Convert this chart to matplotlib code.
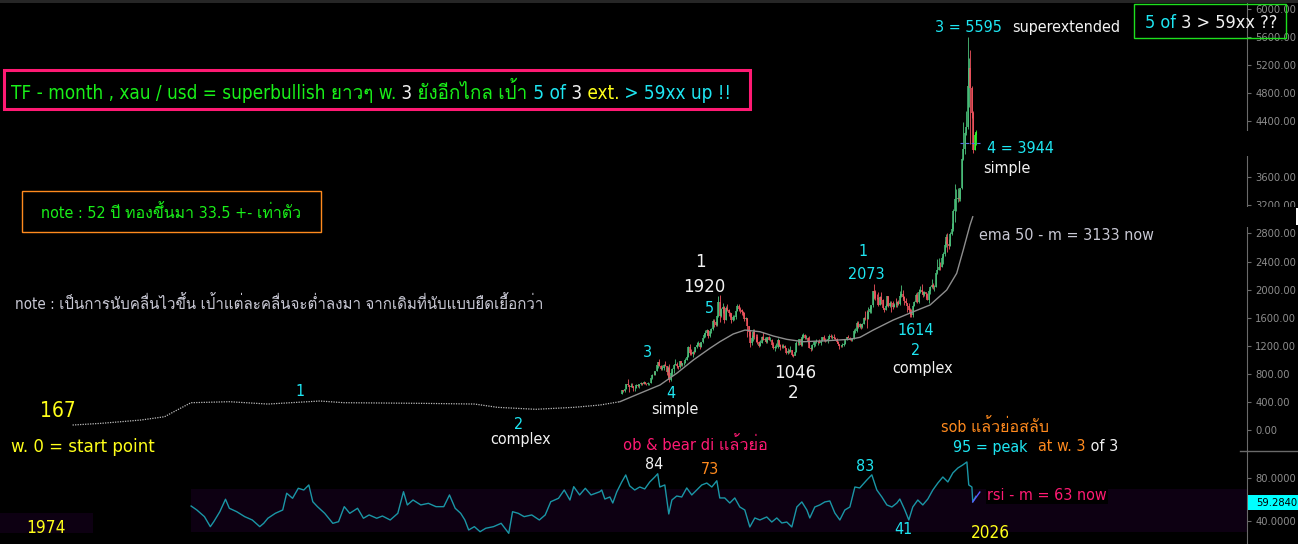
import matplotlib
matplotlib.use("Agg")
import matplotlib.pyplot as plt
import numpy as np
from matplotlib import font_manager
from matplotlib.ft2font import FT2Font
from matplotlib.patches import Rectangle
from matplotlib.lines import Line2D

# monthly xau/usd candles, Jan 2006 .. Jul 2026 (open = previous close)
first_open = 513
closes = [
    568, 556, 582, 654, 643, 613, 633, 623, 599, 604, 646, 632,
    650, 669, 662, 681, 659, 650, 665, 673, 743, 789, 783, 834,
    923, 972, 916, 864, 885, 928, 912, 833, 884, 718, 815, 869,
    927, 942, 916, 891, 979, 926, 955, 955, 1001, 1040, 1181, 1096,
    1081, 1118, 1113, 1180, 1212, 1244, 1181, 1247, 1307, 1357, 1386, 1421,
    1333, 1410, 1439, 1556, 1536, 1500, 1628, 1826, 1620, 1722, 1746, 1566,
    1737, 1711, 1669, 1664, 1562, 1604, 1614, 1692, 1773, 1719, 1713, 1675,
    1663, 1578, 1596, 1476, 1393, 1234, 1314, 1396, 1327, 1323, 1253, 1202,
    1244, 1326, 1284, 1291, 1250, 1327, 1282, 1287, 1210, 1171, 1182, 1184,
    1279, 1212, 1183, 1182, 1190, 1172, 1095, 1132, 1115, 1142, 1065, 1061,
    1117, 1238, 1234, 1293, 1215, 1322, 1350, 1309, 1316, 1273, 1173, 1152,
    1211, 1249, 1249, 1268, 1268, 1242, 1269, 1322, 1280, 1271, 1275, 1303,
    1345, 1318, 1325, 1316, 1298, 1253, 1224, 1201, 1192, 1215, 1222, 1282,
    1321, 1313, 1292, 1284, 1305, 1409, 1413, 1520, 1472, 1513, 1464, 1517,
    1589, 1585, 1577, 1686, 1730, 1781, 1975, 1967, 1886, 1879, 1776, 1898,
    1847, 1734, 1707, 1769, 1906, 1770, 1814, 1813, 1757, 1783, 1774, 1829,
    1796, 1909, 1937, 1896, 1837, 1807, 1766, 1711, 1660, 1633, 1768, 1824,
    1928, 1827, 1969, 1990, 1963, 1919, 1965, 1940, 1849, 1983, 2036, 2063,
    2040, 2044, 2230, 2286, 2327, 2326, 2448, 2503, 2635, 2744, 2643, 2625,
    2798, 2858, 3124, 3289, 3289, 3303, 3290, 3448, 3858, 4000, 4230, 4320,
    4900, 5150, 4870, 4516, 3990, 4200, 4250,
]
highs = [
    570, 575, 586, 654, 730, 638, 669, 665, 633, 612, 650, 650,
    652, 690, 671, 693, 691, 671, 682, 676, 745, 796, 846, 841,
    926, 975, 1014, 929, 930, 945, 988, 915, 905, 934, 825, 881,
    928, 1006, 963, 917, 982, 989, 960, 966, 1024, 1071, 1195, 1227,
    1161, 1128, 1134, 1180, 1249, 1266, 1244, 1248, 1310, 1388, 1424, 1432,
    1424, 1412, 1447, 1575, 1577, 1553, 1632, 1913, 1921, 1734, 1804, 1764,
    1764, 1791, 1720, 1677, 1668, 1641, 1632, 1693, 1790, 1798, 1755, 1723,
    1694, 1684, 1617, 1598, 1488, 1424, 1348, 1434, 1434, 1361, 1362, 1267,
    1280, 1345, 1392, 1331, 1315, 1332, 1345, 1323, 1294, 1255, 1210, 1238,
    1307, 1287, 1224, 1224, 1232, 1205, 1175, 1170, 1157, 1191, 1144, 1088,
    1124, 1263, 1282, 1303, 1304, 1362, 1375, 1367, 1352, 1325, 1337, 1180,
    1220, 1264, 1262, 1296, 1270, 1296, 1270, 1331, 1358, 1306, 1299, 1307,
    1366, 1362, 1356, 1365, 1326, 1310, 1266, 1226, 1214, 1243, 1237, 1284,
    1326, 1347, 1324, 1300, 1306, 1439, 1453, 1555, 1557, 1518, 1516, 1525,
    1611, 1689, 1704, 1747, 1765, 1786, 1984, 2075, 1992, 1933, 1965, 1906,
    1959, 1871, 1740, 1798, 1912, 1916, 1832, 1834, 1834, 1813, 1877, 1831,
    1853, 1974, 2070, 1998, 1910, 1879, 1814, 1808, 1735, 1730, 1786, 1833,
    1949, 1959, 2009, 2049, 2079, 1983, 1987, 1949, 1953, 2009, 2052, 2146,
    2088, 2066, 2236, 2431, 2450, 2387, 2484, 2531, 2686, 2790, 2801, 2726,
    2817, 2956, 3149, 3500, 3435, 3452, 3439, 3453, 3871, 4381, 4250, 4550,
    5595, 5300, 5420, 4900, 4540, 4230, 4270,
]
lows = [
    516, 538, 535, 583, 643, 543, 612, 611, 560, 560, 600, 611,
    603, 647, 635, 660, 651, 637, 643, 643, 670, 731, 780, 780,
    835, 880, 914, 860, 850, 857, 907, 786, 740, 682, 705, 770,
    807, 920, 889, 865, 884, 916, 905, 931, 953, 1000, 1040, 1075,
    1073, 1044, 1086, 1111, 1165, 1200, 1157, 1176, 1243, 1308, 1330, 1360,
    1309, 1328, 1381, 1420, 1462, 1478, 1478, 1615, 1535, 1603, 1670, 1523,
    1563, 1691, 1627, 1613, 1527, 1548, 1565, 1588, 1691, 1692, 1672, 1636,
    1626, 1555, 1562, 1321, 1338, 1180, 1208, 1271, 1291, 1251, 1226, 1187,
    1202, 1239, 1277, 1268, 1240, 1241, 1280, 1273, 1206, 1161, 1131, 1170,
    1167, 1191, 1142, 1170, 1170, 1162, 1077, 1080, 1098, 1111, 1053, 1046,
    1062, 1107, 1208, 1208, 1200, 1199, 1310, 1301, 1302, 1241, 1171, 1123,
    1146, 1180, 1195, 1240, 1214, 1236, 1205, 1266, 1271, 1260, 1264, 1236,
    1302, 1307, 1303, 1302, 1282, 1245, 1211, 1160, 1180, 1183, 1196, 1221,
    1276, 1311, 1281, 1266, 1267, 1301, 1382, 1400, 1459, 1459, 1445, 1454,
    1517, 1563, 1451, 1577, 1667, 1671, 1757, 1863, 1849, 1860, 1764, 1776,
    1802, 1717, 1677, 1705, 1766, 1750, 1751, 1687, 1721, 1746, 1759, 1753,
    1780, 1780, 1890, 1872, 1787, 1805, 1681, 1709, 1615, 1617, 1616, 1765,
    1823, 1805, 1810, 1950, 1932, 1893, 1902, 1885, 1846, 1810, 1931, 2016,
    2002, 1985, 2039, 2229, 2277, 2286, 2318, 2364, 2472, 2604, 2537, 2583,
    2615, 2772, 2833, 2957, 3121, 3247, 3268, 3268, 3436, 3850, 3930, 4200,
    4290, 4600, 4080, 4450, 3944, 3990, 4060,
]

# ema 50 (monthly)
ema_years = [1974.25, 1975.9, 1978.2, 1979.57, 1980.3, 1981.1, 1983.33, 1985.55,
             1988.56, 1989.95, 1994.41, 1997.51, 1998.84, 2001.05, 2003.26, 2004.77,
             2005.92, 2007.08, 2008.24, 2009.21, 2010.17, 2011.13, 2011.71, 2012.48,
             2013.16, 2014.03, 2014.80, 2015.57, 2016.53, 2017.89, 2019.24, 2019.81,
             2020.58, 2021.74, 2022.90, 2023.87, 2024.83, 2025.41, 2025.79, 2026.18,
             2026.34]
ema_values = [71, 95, 142, 189, 285, 389, 403, 370,
              413, 389, 380, 370, 323, 295, 323, 356,
              403, 523, 641, 808, 997, 1164, 1258, 1368,
              1424, 1400, 1339, 1292, 1258, 1272, 1292, 1320,
              1424, 1567, 1685, 1781, 1994, 2232, 2564, 2920,
              3038]

# rsi (monthly)
rsi_years = [1981.11, 1981.44, 1981.88, 1982.22, 1982.42, 1982.77, 1983.10, 1983.32,
             1983.75, 1984.21, 1984.65, 1985.08, 1985.31, 1985.55, 1985.98, 1986.41,
             1986.64, 1986.98, 1987.31, 1987.63, 1987.92, 1988.15, 1988.42, 1988.84,
             1989.31, 1989.64, 1989.97, 1990.29, 1990.74, 1991.08, 1991.41, 1991.85,
             1992.18, 1992.63, 1993.07, 1993.40, 1993.62, 1993.95, 1994.40, 1994.84,
             1995.28, 1995.73, 1996.06, 1996.39, 1996.71, 1996.95, 1997.17, 1997.50,
             1997.83, 1998.16, 1998.61, 1999.05, 1999.49, 1999.71, 2000.04, 2000.38,
             2000.82, 2001.26, 2001.60, 2001.92, 2002.37, 2002.70, 2003.03, 2003.25,
             2003.59, 2003.92, 2004.25, 2004.76, 2004.87, 2005.05, 2005.34, 2005.51,
             2005.74, 2006.03, 2006.26, 2006.49, 2006.78, 2007.07, 2007.36, 2007.65,
             2007.94, 2008.11, 2008.23, 2008.52, 2008.75, 2008.93, 2009.21, 2009.50,
             2009.79, 2010.08, 2010.37, 2010.66, 2010.95, 2011.24, 2011.53, 2011.70,
             2011.99, 2012.28, 2012.57, 2012.86, 2013.15, 2013.44, 2013.73, 2014.02,
             2014.42, 2014.71, 2015.00, 2015.29, 2015.58, 2015.87, 2016.16, 2016.45,
             2016.74, 2016.91, 2017.20, 2017.49, 2017.78, 2018.07, 2018.36, 2018.65,
             2018.94, 2019.23, 2019.52, 2019.80, 2020.21, 2020.50, 2020.79, 2021.08,
             2021.37, 2021.66, 2021.95, 2022.12, 2022.41, 2022.64, 2022.87, 2023.16,
             2023.45, 2023.74, 2024.03, 2024.32, 2024.61, 2024.90, 2025.19, 2025.48,
             2025.76, 2026.00, 2026.11, 2026.29, 2026.34, 2026.52]
rsi_values = [54.0, 50.3, 44.1, 34.8, 39.4, 48.7, 60.3, 51.9,
              48.7, 44.1, 41.0, 34.8, 37.9, 42.6, 47.2, 50.3,
              65.9, 61.2, 70.5, 68.9, 73.6, 58.0, 53.4, 47.2,
              37.9, 39.4, 53.4, 47.2, 51.9, 42.6, 45.7, 42.6,
              44.7, 41.0, 47.2, 67.3, 55.0, 59.6, 55.0, 56.5,
              53.4, 53.4, 64.3, 51.9, 47.2, 41.0, 31.7, 34.8,
              30.1, 33.3, 34.8, 37.9, 28.6, 48.7, 47.2, 44.1,
              45.7, 41.0, 45.7, 58.0, 61.2, 68.9, 59.6, 72.0,
              64.3, 70.5, 64.3, 67.3, 68.9, 60.5, 62.4, 56.8,
              67.1, 76.4, 82.9, 72.7, 68.9, 71.7, 69.9, 76.4,
              81.0, 84.0, 71.7, 73.6, 46.6, 59.6, 63.3, 62.4,
              70.8, 64.3, 68.9, 73.6, 75.4, 71.7, 77.5, 61.5,
              61.5, 56.8, 61.5, 53.1, 50.3, 34.5, 42.9, 41.0,
              43.8, 39.1, 42.9, 38.2, 39.1, 34.5, 53.1, 57.8,
              50.3, 42.9, 53.1, 55.0, 57.8, 58.7, 47.5, 41.0,
              50.3, 53.1, 71.7, 70.8, 78.2, 83.0, 68.9, 62.4,
              55.0, 53.1, 56.8, 60.5, 50.3, 41.0, 53.1, 59.6,
              55.0, 60.5, 68.9, 75.4, 81.0, 76.4, 84.8, 89.4,
              92.2, 95.0, 73.6, 71.7, 57.8, 63.0]

level_years = [2025.6, 2026.8]
level_price = 4090
rsi_arrow_years = [2026.34, 2026.75]
rsi_arrow_values = [57.8, 67.0]
rsi_last = 59.2840
price_ticks = [0, 400, 800, 1200, 1600, 2000, 2400, 2800, 3200, 3600,
               4400, 4800, 5200, 5600, 6000]
rsi_ticks = [40, 80]

# fonts: tahoma-like latin + any installed font that carries thai glyphs
thai = None
for fe in font_manager.fontManager.ttflist:
    try:
        if 0x0E01 in FT2Font(fe.fname).get_charmap():
            thai = fe.name
            break
    except Exception:
        pass
plt.rcParams['font.family'] = ['DejaVu Sans'] + ([thai] if thai else [])
plt.rcParams['font.stretch'] = 'condensed'

CYAN = '#1ee6f2'
GREEN = '#19f019'
WHITE = '#f2f2f2'
YELLOW = '#ffff1a'
PINK = '#ff1a73'
ORANGE = '#ff8a1e'
SOFT = '#c8c8d4'
BAND = '#0d0012'

W, H = 1298, 544
fig = plt.figure(figsize=(W / 100, H / 100), dpi=100, facecolor='black')
ax = fig.add_axes([0, 1 - 451 / H, 1247 / W, 448 / H], facecolor='black')
axr = fig.add_axes([0, 0, 1247 / W, 93 / H], facecolor='black')
x0, x1 = 1970.05, 2042.21

# candles
n = len(closes)
t = 2006 + (np.arange(n) + 0.5) / 12
c = np.array(closes, float)
o = np.r_[first_open, c[:-1]]
cols = np.where(c >= o, '#4cc27c', '#f2545f').astype(object)
cols[-2:] = '#33ff33'
ax.vlines(t, lows, highs, colors=cols, lw=0.6)
ax.vlines(t, np.minimum(o, c), np.maximum(o, c), colors=cols, lw=1.1)

# ema
ey = np.array(ema_years)
ev = np.array(ema_values)
early = ey <= 2005.92
late = ey >= 2005.92
ax.plot(ey[early], ev[early], color='#bdbdbd', lw=0.9, ls=(0, (1, 1)))
ax.plot(ey[late], ev[late], color='#8e8e8e', lw=1.0)
ax.hlines(level_price, level_years[0], level_years[1], colors='#5a6ee6',
          linestyles=(0, (3, 2)), lw=0.8)

# rsi
axr.fill_between([rsi_years[0], x1], 30, 70, color=BAND, lw=0)
axr.plot(rsi_years, rsi_values, color='#1a96a6', lw=1.0)
axr.plot(rsi_arrow_years, rsi_arrow_values, color='#5a5aff', lw=1.0)

ax.set_ylim(-299, 6083)
axr.set_ylim(18.65, 105.2)
for a, ticks, fmt in ((ax, price_ticks, '{:.2f}'), (axr, rsi_ticks, '{:.4f}')):
    a.set_xlim(x0, x1)
    a.set_xticks([])
    for s in ('top', 'bottom', 'left'):
        a.spines[s].set_visible(False)
    a.spines['right'].set_color('#6a6a6a')
    a.yaxis.tick_right()
    a.set_yticks(ticks)
    a.set_yticklabels([fmt.format(v) for v in ticks])
    a.tick_params(axis='y', colors='#6a6a6a', labelcolor='#8c8c8c', labelsize=8,
                  length=3, width=0.8, pad=3)


def fig_rect(xa, ya, xb, yb, fc='none', ec='none', lw=1.0):
    fig.add_artist(Rectangle((xa / W, 1 - yb / H), (xb - xa) / W, (yb - ya) / H,
                             transform=fig.transFigure, facecolor=fc, edgecolor=ec, lw=lw))


def label(x, y, s, color, size, ha='left', **kw):
    return fig.text(x / W, 1 - y / H, s, color=color, fontsize=size, ha=ha, va='baseline', **kw)


def label_parts(x, y, parts, size):
    r = fig.canvas.get_renderer()
    for s, col in parts:
        tx = label(x, y, s, col, size)
        x += tx.get_window_extent(r).width


# chart furniture
fig_rect(0, 0, W, 3, fc='#262626')
fig_rect(1240, 131, W, 156, fc='black')
fig_rect(1240, 207, W, 227, fc='black')
fig_rect(1296, 208, W, 225, fc='white')
fig_rect(0, 513, 93, 533, fc=BAND)
fig_rect(1248, 495, W, 510, fc='#00ffff')
fig.add_artist(Line2D([1240 / W, 1], [1 - 451 / H] * 2, color='#6a6a6a', lw=1,
                      transform=fig.transFigure))
label(1256, 506, '{:.4f}'.format(rsi_last), 'black', 8)

# boxes + notes
fig_rect(4, 70, 750, 109, ec=PINK, lw=2.2)
label_parts(11, 99, [('TF - month , xau / usd = superbullish ยาวๆ w.', GREEN), (' 3', WHITE),
                     (' ยังอีกไกล เป้า', GREEN), (' 5 of', CYAN), (' 3', WHITE),
                     (' ext.', YELLOW), (' > 59xx up !!', CYAN)], 13.6)
fig_rect(22, 191, 321, 232, ec=ORANGE, lw=1)
label(171, 218, 'note : 52 ปี ทองขึ้นมา 33.5 +- เท่าตัว', GREEN, 11.5, ha='center')
label(15, 309, 'note : เป็นการนับคลื่นไวขึ้น เป้าแต่ละคลื่นจะต่ำลงมา จากเดิมที่นับแบบยืดเยื้อกว่า', SOFT, 10.9)
fig_rect(1134, 4, 1286, 38, ec='#1ee01e', lw=1)
label_parts(1145, 28, [('5 of', CYAN), (' 3 > 59xx ??', WHITE)], 13)

# wave labels
label(40, 417, '167', YELLOW, 15)
label(11, 452, 'w. 0 = start point', YELLOW, 13.3)
label(300, 396, '1', CYAN, 11.5, ha='center')
label(519, 429, '2', CYAN, 11.5, ha='center')
label(521, 444, 'complex', WHITE, 11.5, ha='center')
label(647, 357, '3', CYAN, 11.5, ha='center')
label(671, 398, '4', CYAN, 11.5, ha='center')
label(675, 414, 'simple', WHITE, 11.5, ha='center')
label(709, 313, '5', CYAN, 11.5, ha='center')
label(704, 292, '1920', WHITE, 13.3, ha='center')
label(700, 267, '1', WHITE, 13.3, ha='center')
label(795, 378, '1046', WHITE, 13.3, ha='center')
label(793, 398, '2', WHITE, 13.3, ha='center')
label(863, 256, '1', CYAN, 11.5, ha='center')
label(866, 279, '2073', CYAN, 11.5, ha='center')
label(916, 335, '1614', CYAN, 11.5, ha='center')
label(916, 355, '2', CYAN, 11.5, ha='center')
label(923, 373, 'complex', WHITE, 11.5, ha='center')
label(935, 32, '3 = 5595', CYAN, 11.5)
label(1012, 32, 'superextended', WHITE, 11.5)
label(987, 153, '4 = 3944', CYAN, 11.5)
label(983, 173, 'simple', WHITE, 11.5)
label(979, 240, 'ema 50 - m = 3133 now', SOFT, 11.5)

# rsi labels
label(623, 450, 'ob & bear di แล้วย่อ', PINK, 11.8)
label(654, 469, '84', WHITE, 11.5, ha='center')
label(710, 474, '73', ORANGE, 11.5, ha='center')
label(865, 471, '83', CYAN, 11.5, ha='center')
label(903, 534, '41', CYAN, 11.5, ha='center')
label(941, 432, 'sob แล้วย่อสลับ', ORANGE, 11.5)
label(953, 452, '95 = peak', CYAN, 11.5)
label_parts(1038, 451, [('at w. 3', ORANGE), (' of 3', WHITE)], 11.5)
label(987, 500, 'rsi - m = 63 now', PINK, 11.5,
      bbox=dict(facecolor='black', edgecolor='none', pad=1))
label(990, 538, '2026', YELLOW, 12.3, ha='center')
label(46, 533, '1974', YELLOW, 12.3, ha='center')

fig.savefig('out.png', dpi=100, facecolor='black')
